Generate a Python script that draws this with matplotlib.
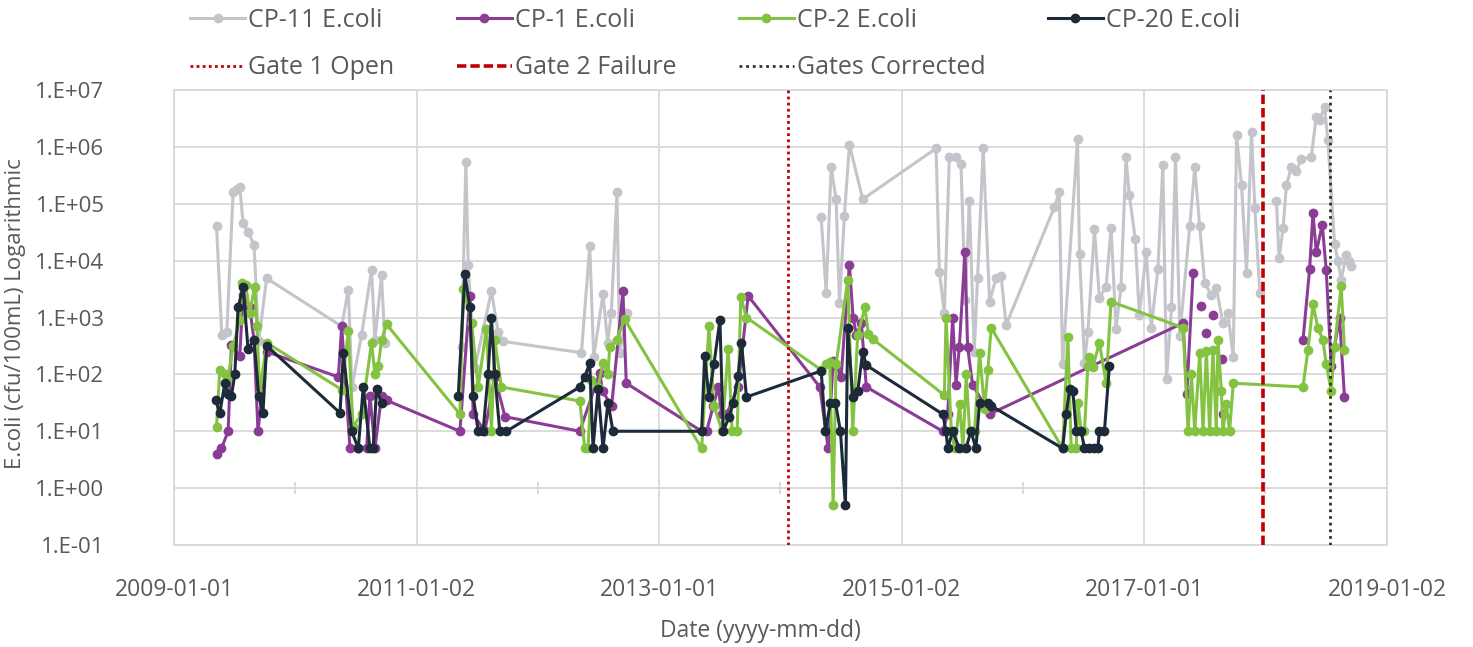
import numpy as np
import pandas as pd
import matplotlib
matplotlib.use('Agg')
import matplotlib.pyplot as plt
from matplotlib.ticker import FuncFormatter, NullLocator

plt.rcParams['font.family'] = ['Open Sans', 'DejaVu Sans']

# None/None marks a break in the series (no line drawn across)
cp11_dates = ['2009-05-09', '2009-05-25', '2009-06-09', '2009-06-28', '2009-07-11', '2009-07-18', '2009-07-28',
              '2009-08-12', '2009-08-30', '2009-09-13', '2009-10-07', '2010-05-21', '2010-06-10', '2010-06-21',
              '2010-07-20', '2010-08-19', '2010-08-29', '2010-09-18', '2010-09-28', None,
              '2011-05-17', '2011-05-30', '2011-06-06', '2011-06-26', '2011-08-15', '2011-09-04', '2011-09-19',
              '2012-05-12', '2012-06-06', '2012-06-18', '2012-07-16', '2012-07-30', '2012-08-10', '2012-08-27',
              '2012-09-04', '2012-09-25', None,
              '2014-05-04', '2014-05-19', '2014-06-03', '2014-06-18', '2014-06-28', '2014-07-13', '2014-07-28',
              '2014-09-06', '2015-04-15', '2015-04-25', '2015-05-10', '2015-05-25', '2015-06-14', '2015-06-29',
              '2015-07-12', '2015-07-24', '2015-08-08', '2015-08-18', '2015-09-04', '2015-09-23', '2015-10-13',
              '2015-10-28', '2015-11-12', '2016-04-05', '2016-04-20', '2016-04-30', '2016-06-14', '2016-06-20',
              '2016-07-05', '2016-07-15', '2016-08-04', '2016-08-19', '2016-09-08', '2016-09-23', '2016-10-08',
              '2016-10-23', '2016-11-07', '2016-11-17', '2016-12-05', '2016-12-17', '2017-01-07', '2017-01-22',
              '2017-02-11', '2017-02-26', '2017-03-09', '2017-03-24', '2017-04-05', '2017-04-18', '2017-05-18',
              '2017-06-02', '2017-06-17', '2017-07-02', '2017-07-22', '2017-08-06', '2017-08-26', '2017-09-10',
              '2017-09-26', '2017-10-06', '2017-10-21', '2017-11-05', '2017-11-20', '2017-11-30', '2017-12-15', None,
              '2018-02-03', '2018-02-11', '2018-02-23', '2018-03-05', '2018-03-20', '2018-04-04', '2018-04-19',
              '2018-05-19', '2018-06-03', '2018-06-13', '2018-06-28', '2018-07-08', '2018-07-28', '2018-08-07',
              '2018-08-17', '2018-09-01', '2018-09-11', '2018-09-17']
cp11_vals = [41000, 500, 550, 160000, 180000, 200000, 46000,
             32000, 19000, 380, 4900, 700, 3100, 60,
             500, 6900, 400, 5600, 350, None,
             300, 550000, 8300, 130, 2900, 550, 380,
             240, 18000, 200, 2600, 360, 1200, 160000,
             240, 1200, None,
             58000, 2700, 440000, 120000, 1800, 61000, 1100000,
             120000, 940000, 6200, 1200, 660000, 660000, 500000,
             2000, 110000, 250, 5000, 940000, 1900, 5000,
             5300, 740, 87000, 160000, 150, 1400000, 13000,
             160, 550, 36000, 2200, 3500, 38000, 630,
             3500, 660000, 140000, 24000, 1100, 14000, 660,
             7100, 480000, 82, 1500, 660000, 480, 40000,
             440000, 40000, 4000, 2500, 3300, 800, 1200,
             200, 1600000, 210000, 6000, 1800000, 85000, 2700, None,
             110000, 11000, 37000, 210000, 440000, 380000, 620000,
             660000, 3400000, 3000000, 5000000, 1300000, 20000, 9800,
             4600, 12500, 10000, 8000]

cp1_dates = ['2009-05-09', '2009-05-24', '2009-06-13', '2009-06-23', '2009-07-18', '2009-07-28', '2009-08-17',
             '2009-08-30', '2009-09-11', '2009-10-07', '2010-05-11', '2010-05-21', '2010-06-15', '2010-07-10',
             '2010-08-04', '2010-08-14', '2010-08-29', '2010-09-18', '2010-10-03', '2011-05-12', '2011-06-11',
             '2011-06-21', '2011-07-26', '2011-08-25', '2011-09-25', '2012-05-07', '2012-07-06', '2012-07-15',
             '2012-08-11', '2012-09-14', '2012-09-24', '2013-05-09', '2013-05-24', '2013-06-13', '2013-06-28',
             '2013-07-08', '2013-07-23', '2013-08-27', '2013-09-26', '2014-04-30', '2014-05-25', '2014-06-09',
             '2014-06-18', '2014-07-03', '2014-07-28', '2014-08-08', '2014-08-18', '2014-09-02', '2014-09-17',
             '2015-05-05', '2015-05-20', '2015-06-04', '2015-06-14', '2015-06-24', '2015-07-11', '2015-07-19',
             '2015-08-03', '2015-09-23', '2017-04-28', '2017-05-09', '2017-05-28', None,
             '2017-06-22', None, '2017-07-07', None, '2017-07-27', None, '2017-08-22', None, '2017-08-26', None,
             '2018-04-24', '2018-05-14', '2018-05-24', '2018-06-03', '2018-06-21', '2018-07-03', '2018-07-18',
             '2018-08-12', '2018-08-27']
cp1_vals = [4, 5, 10, 330, 210, 2500, 1500,
            400, 10, 250, 90, 700, 5, 5,
            5, 42, 5, 42, 35, 10, 2400,
            20, 10, 90, 18, 10, 105, 50,
            28, 2900, 70, 10, 10, 28, 60,
            20, 20, 60, 2400, 60, 5, 170,
            140, 90, 8500, 1000, 500, 800, 60,
            10, 20, 1000, 66, 300, 14000, 300,
            66, 20, 800, 45, 6000, None,
            1600, None, 530, None, 1100, None, 190, None, 20, None,
            400, 7200, 69000, 14000, 43000, 6800, 140,
            1000, 40]

cp2_dates = ['2009-05-09', '2009-05-19', '2009-06-03', '2009-06-13', '2009-06-28', '2009-07-18', '2009-07-26',
             '2009-08-05', '2009-08-17', '2009-09-01', '2009-09-08', '2009-09-16', '2009-10-07', '2010-05-21',
             '2010-06-10', '2010-06-24', '2010-07-20', '2010-08-19', '2010-08-29', '2010-09-08', '2010-09-18',
             '2010-10-03', '2011-05-12', '2011-05-22', '2011-06-16', '2011-07-06', '2011-07-31', '2011-08-15',
             '2011-08-25', '2011-09-14', '2012-05-07', '2012-05-22', '2012-06-01', '2012-06-11', '2012-07-01',
             '2012-07-16', '2012-07-31', '2012-08-05', '2012-08-26', '2012-09-19', '2013-05-09', '2013-05-31',
             '2013-06-15', '2013-07-10', '2013-07-28', '2013-08-09', '2013-08-24', '2013-09-04', '2013-09-21',
             '2014-05-04', '2014-05-19', '2014-05-30', '2014-06-09', '2014-06-18', '2014-07-23', '2014-08-07',
             '2014-08-22', '2014-09-13', '2014-09-23', '2014-10-06', '2015-05-10', '2015-05-15', '2015-05-31',
             '2015-06-10', '2015-06-25', '2015-07-05', '2015-07-15', '2015-07-25', '2015-08-09', '2015-08-24',
             '2015-09-08', '2015-09-18', '2015-09-28', '2016-04-30', '2016-05-16', '2016-05-26', '2016-06-10',
             '2016-06-15', '2016-06-25', '2016-07-05', '2016-07-15', '2016-07-20', '2016-07-30', '2016-08-19',
             '2016-09-08', '2016-09-23', '2017-04-28', '2017-05-13', '2017-05-23', '2017-06-02', '2017-06-17',
             '2017-06-27', '2017-07-07', '2017-07-17', '2017-07-27', '2017-08-06', '2017-08-11', '2017-08-21',
             '2017-08-26', '2017-09-05', '2017-09-15', '2017-09-26', '2018-04-24', '2018-05-09', '2018-05-24',
             '2018-06-08', '2018-06-23', '2018-07-03', '2018-07-18', '2018-07-28', '2018-08-17', '2018-08-27']
cp2_vals = [12, 120, 100, 90, 310, 900, 4000,
            3700, 1200, 3500, 700, 47, 360, 54,
            570, 12, 20, 360, 100, 140, 400,
            760, 20, 3200, 800, 60, 640, 10,
            400, 60, 34, 5, 5, 80, 60,
            160, 100, 300, 410, 930, 5, 700,
            28, 10, 280, 10, 10, 2300, 1000,
            120, 150, 165, 0.5, 150, 4600, 10,
            500, 1500, 520, 420, 43, 1000, 10,
            5, 30, 5, 100, 10, 10, 240,
            25, 120, 660, 5, 450, 5, 5,
            32, 10, 10, 140, 200, 135, 360,
            70, 1900, 660, 10, 100, 10, 240,
            10, 260, 10, 270, 10, 400, 52,
            10, 30, 10, 70, 60, 270, 1700,
            660, 400, 150, 52, 300, 3600, 270]

cp20_dates = ['2009-05-06', '2009-05-19', '2009-06-03', '2009-06-13', '2009-06-23', '2009-07-03', '2009-07-13',
              '2009-07-28', '2009-08-12', '2009-08-30', '2009-09-13', '2009-09-26', '2009-10-07', '2010-05-16',
              '2010-05-26', '2010-06-20', '2010-07-10', '2010-07-25', '2010-08-14', '2010-08-24', '2010-09-03',
              '2010-09-18', None,
              '2011-05-07', '2011-05-27', '2011-06-11', '2011-06-21', '2011-07-06', '2011-07-21', '2011-08-05',
              '2011-08-15', '2011-08-25', '2011-09-09', '2011-09-29', '2012-05-07', '2012-05-22', '2012-06-06',
              '2012-06-16', '2012-07-01', '2012-07-16', '2012-07-31', '2012-08-15', '2013-05-09', '2013-05-18',
              '2013-05-31', '2013-06-15', '2013-07-03', '2013-07-13', '2013-07-31', '2013-08-12', '2013-08-27',
              '2013-09-06', '2013-09-21', '2014-05-04', '2014-05-17', '2014-06-01', '2014-06-16', '2014-07-01',
              '2014-07-16', '2014-07-23', '2014-08-07', '2014-08-22', '2014-09-06', '2014-09-17', '2015-05-05',
              '2015-05-15', '2015-05-20', '2015-06-04', '2015-06-24', '2015-07-14', '2015-07-29', '2015-08-13',
              '2015-08-24', '2015-09-18', '2015-09-28', '2016-04-30', '2016-05-11', '2016-05-21', '2016-05-31',
              '2016-06-10', '2016-06-25', '2016-07-05', '2016-07-20', '2016-08-04', '2016-08-14', '2016-08-19',
              '2016-09-03', '2016-09-18']
cp20_vals = [36, 21, 70, 45, 42, 100, 1500,
             3400, 280, 410, 42, 21, 320, 21,
             240, 10, 5, 60, 5, 5, 55,
             32, None,
             42, 5800, 1500, 42, 10, 10, 100,
             1000, 100, 10, 10, 60, 90, 160,
             5, 55, 5, 32, 10, 10, 210,
             40, 150, 900, 10, 18, 32, 94,
             360, 40, 115, 10, 32, 32, 10,
             0.5, 650, 40, 50, 250, 145, 20,
             10, 5, 10, 5, 5, 10, 5,
             32, 32, 28, 5, 20, 55, 50,
             10, 10, 5, 5, 5, 5, 10,
             10, 140]

series_names = ['CP-11 E.coli', 'CP-1 E.coli', 'CP-2 E.coli', 'CP-20 E.coli']
series_colors = ['#c4c4cb', '#8b3d96', '#84c341', '#1c2a39']

event_names = ['Gate 1 Open', 'Gate 2 Failure', 'Gates Corrected']
event_dates = ['2014-01-23', '2017-12-25', '2018-07-15']
event_colors = ['#c00000', '#c00000', '#33331f']
event_styles = [(0, (1, 1.2)), (0, (2.6, 1.1)), (0, (1, 1.4))]
event_widths = [2.0, 2.6, 2.0]

tick_dates = ['2009-01-01', '2011-01-02', '2013-01-01', '2015-01-02', '2017-01-01', '2019-01-02']
tick_labels = ['2009-01-01', '2011-01-02', '2013-01-01', '2015-01-02', '2017-01-01', '2019-01-02']
year_marks = ['2010-01-01', '2012-01-01', '2014-01-01', '2016-01-01', '2018-01-01']

text_c = '#595959'
grid_c = '#d9d9d9'


def to_xy(dates, vals):
    d = pd.to_datetime(pd.Series(dates)).to_numpy()
    v = np.array([np.nan if x is None else x for x in vals], dtype=float)
    return d, v


fig = plt.figure(figsize=(14.73, 6.47), dpi=100)
ax = fig.add_axes([174 / 1473, 1 - 545 / 647, (1387 - 174) / 1473, (545 - 90) / 647])

handles = []
for (dates, vals), name, col in zip([(cp11_dates, cp11_vals), (cp1_dates, cp1_vals),
                                     (cp2_dates, cp2_vals), (cp20_dates, cp20_vals)],
                                    series_names, series_colors):
    d, v = to_xy(dates, vals)
    ln, = ax.plot(d, v, '-o', color=col, lw=2.2, ms=6, label=name, zorder=3)
    handles.append(ln)

ev_handles = []
for name, dt, col, ls, lw in zip(event_names, event_dates, event_colors, event_styles, event_widths):
    h = ax.axvline(pd.Timestamp(dt), color=col, ls=ls, lw=lw, label=name, zorder=4)
    ev_handles.append(h)

ax.set_yscale('log')
ax.set_ylim(0.1, 1e7)
ax.set_xlim(pd.Timestamp('2009-01-01'), pd.Timestamp('2019-01-01'))

ax.set_yticks(10.0 ** np.arange(-1, 8))
ax.yaxis.set_major_formatter(FuncFormatter(lambda v, p: f"1.E{int(round(np.log10(v))):+03d}"))
ax.yaxis.set_minor_locator(NullLocator())
ax.set_xticks(pd.to_datetime(tick_dates))
ax.set_xticklabels(tick_labels)
ax.xaxis.set_minor_locator(NullLocator())

ax.grid(True, which='major', color=grid_c, lw=1.3, zorder=0)
ax.set_axisbelow(True)
for s in ax.spines.values():
    s.set_color(grid_c)
    s.set_linewidth(1.3)
ax.tick_params(axis='both', length=0, labelcolor=text_c)
ax.tick_params(axis='x', pad=24, labelsize=16.5)
ax.tick_params(axis='y', pad=50, labelsize=16)

# horizontal axis crosses at 1, with cross tick marks between the labelled dates
sec = ax.secondary_xaxis(0.125)
sec.set_xticks(pd.to_datetime(year_marks))
sec.tick_params(direction='inout', length=9, width=1.3, color=grid_c, labelbottom=False)
sec.spines['bottom'].set_color(grid_c)
sec.spines['bottom'].set_linewidth(1.3)

fig.text(760 / 1473, 1 - 631 / 647, 'Date (yyyy-mm-dd)', ha='center', va='center', fontsize=16.5, color=text_c)
fig.text(16 / 1473, 1 - 314 / 647, 'E.coli (cfu/100mL) Logarithmic', ha='center', va='center',
         rotation=90, fontsize=16, color=text_c)

order = [handles[0], ev_handles[0], handles[1], ev_handles[1], handles[2], ev_handles[2], handles[3]]
fig.legend(handles=order, labels=[h.get_label() for h in order], ncol=4, loc='upper left',
           bbox_to_anchor=(190 / 1473, 1 - 8 / 647), frameon=False, fontsize=18, labelcolor=text_c,
           handlelength=2.2, handletextpad=0.12, columnspacing=2.5, labelspacing=0.9, borderpad=0,
           borderaxespad=0)

fig.savefig('out.png', dpi=100)
